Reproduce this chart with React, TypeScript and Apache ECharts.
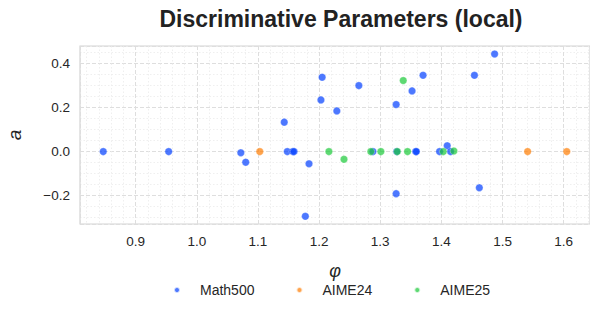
import React, { useEffect, useRef } from "react";
import * as echarts from "echarts";

const seriesNames = ["Math500", "AIME24", "AIME25"];
const colors = ["#023eff", "#ff7c00", "#1ac938"];

const math500Phi = [0.847, 0.954, 1.072, 1.08, 1.143, 1.148, 1.157, 1.159, 1.1835, 1.1775, 1.205, 1.203, 1.229, 1.265, 1.288, 1.326, 1.327, 1.352, 1.358, 1.359, 1.37, 1.326, 1.397, 1.4095, 1.415, 1.454, 1.462, 1.487];
const math500A = [0, 0, -0.005, -0.048, 0.134, 0, 0, 0, -0.055, -0.294, 0.338, 0.235, 0.185, 0.3, 0, 0.214, 0, 0.276, 0, 0, 0.347, -0.191, 0, 0.027, 0, 0.347, -0.164, 0.444];

const aime24Phi = [1.103, 1.541, 1.605];
const aime24A = [0, 0, 0];

const aime25Phi = [1.216, 1.2407, 1.2846, 1.301, 1.3278, 1.3376, 1.3446, 1.403, 1.4204];
const aime25A = [0, -0.035, 0, 0, 0, 0.323, 0, 0, 0.003];

const xMin = 0.809;
const xMax = 1.643;
const yMin = -0.329;
const yMax = 0.48;

const FONT = "'Liberation Sans', Arial, Helvetica, sans-serif";

export default function App() {
  const ref = useRef<HTMLDivElement>(null);
  useEffect(() => {
    if (!ref.current) return;
    const chart = echarts.init(ref.current, undefined, { renderer: "svg" });
    const pairs = [
      [math500Phi, math500A],
      [aime24Phi, aime24A],
      [aime25Phi, aime25A],
    ];
    chart.setOption({
      animation: false,
      backgroundColor: "#ffffff",
      textStyle: { fontFamily: FONT },
      title: {
        text: "Discriminative Parameters (local)",
        left: 336,
        textAlign: "center",
        top: 2,
        textStyle: { fontFamily: FONT, fontSize: 23, fontWeight: "bold", color: "#222222" },
      },
      legend: {
        left: 173,
        top: 283,
        padding: 0,
        itemWidth: 36,
        itemHeight: 6,
        itemGap: 41,
        icon: "circle",
        textStyle: { fontFamily: FONT, fontSize: 14, color: "#262626" },
        data: seriesNames,
      },
      grid: {
        left: 80,
        right: 8,
        top: 46,
        bottom: 86,
        containLabel: false,
        outerBoundsMode: "none",
        show: true,
        borderColor: "#d4d4d4",
        borderWidth: 1.2,
      },
      xAxis: {
        type: "value",
        min: xMin,
        max: xMax,
        splitNumber: 8,
        name: "φ",
        nameLocation: "middle",
        nameGap: 38,
        nameTextStyle: { fontFamily: FONT, fontSize: 18, fontStyle: "italic", color: "#262626" },
        axisLine: { show: false },
        axisTick: { show: false },
        axisLabel: {
          showMinLabel: false,
          showMaxLabel: false,
          margin: 10,
          fontSize: 13.5,
          color: "#262626",
          fontFamily: FONT,
          formatter: (v: number) => v.toFixed(1),
        },
        splitLine: { show: true, lineStyle: { color: "#dedede", type: [4, 2], width: 1 } },
        minorTick: { show: false, splitNumber: 5 },
        minorSplitLine: { show: true, lineStyle: { color: "#ebebeb", type: [1.5, 2], width: 0.8 } },
      },
      yAxis: {
        type: "value",
        min: yMin,
        max: yMax,
        splitNumber: 4,
        name: "a",
        nameLocation: "middle",
        nameGap: 56,
        nameTextStyle: { fontFamily: FONT, fontSize: 19, fontStyle: "italic", color: "#262626" },
        axisLine: { show: false },
        axisTick: { show: false },
        axisLabel: {
          showMinLabel: false,
          showMaxLabel: false,
          margin: 10,
          fontSize: 13.5,
          color: "#262626",
          fontFamily: FONT,
          formatter: (v: number) => v.toFixed(1).replace("-", "\u2212"),
        },
        splitLine: { show: true, lineStyle: { color: "#dedede", type: [4, 2], width: 1 } },
        minorTick: { show: false, splitNumber: 4 },
        minorSplitLine: { show: true, lineStyle: { color: "#ebebeb", type: [1.5, 2], width: 0.8 } },
      },
      series: seriesNames.map((name, i) => ({
        name,
        type: "scatter",
        symbol: "circle",
        symbolSize: 7.5,
        itemStyle: { color: colors[i], opacity: 0.7, borderColor: "#ffffff", borderWidth: 0.4 },
        data: pairs[i][0].map((x, j) => [x, pairs[i][1][j]]),
      })),
    });
    return () => chart.dispose();
  }, []);
  return <div ref={ref} style={{ width: 598, height: 310, margin: -8 }} />;
}
